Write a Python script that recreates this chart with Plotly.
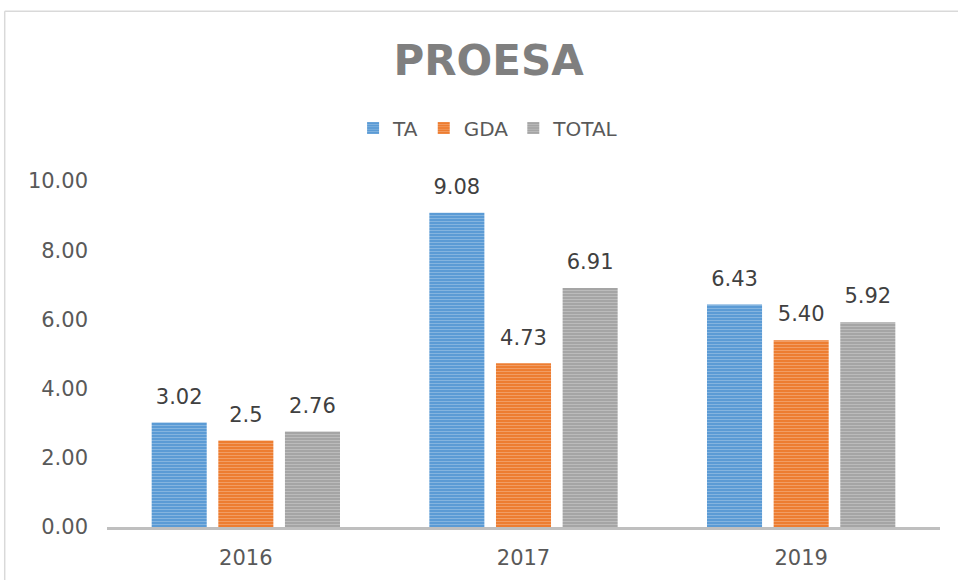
import plotly.graph_objects as go

categories = ["2016", "2017", "2019"]
ta_values = [3.02, 9.08, 6.43]
gda_values = [2.5, 4.73, 5.40]
total_values = [2.76, 6.91, 5.92]
ta_labels = ["3.02", "9.08", "6.43"]
gda_labels = ["2.5", "4.73", "5.40"]
total_labels = ["2.76", "6.91", "5.92"]
y_ticks = [0, 2, 4, 6, 8, 10]
y_tick_labels = ["0.00", "2.00", "4.00", "6.00", "8.00", "10.00"]

FONT = "DejaVu Sans"

series = [
    ("TA", ta_values, ta_labels, "#5B9BD5"),
    ("GDA", gda_values, gda_labels, "#ED7D31"),
    ("TOTAL", total_values, total_labels, "#A5A5A5"),
]

traces = []
for name, vals, labels, color in series:
    traces.append(go.Bar(
        name=name, x=categories, y=vals, offsetgroup=name,
        marker=dict(color=color, line=dict(width=0),
                    pattern=dict(shape="-", fgcolor="rgba(255,255,255,0.55)",
                                 size=3, solidity=0.3)),
        hoverinfo="skip",
    ))
for name, vals, labels, color in series:
    traces.append(go.Scatter(
        x=categories, y=vals, text=labels, offsetgroup=name, showlegend=False,
        mode="markers+text", textposition="top center", cliponaxis=False,
        marker=dict(size=20, opacity=0),
        textfont=dict(family=FONT, size=21, color="#404040"),
        hoverinfo="skip",
    ))

fig = go.Figure(traces)

fig.update_layout(
    width=958, height=580,
    margin=dict(l=107.3, r=17.6, t=181, b=52.5, pad=0),
    paper_bgcolor="white", plot_bgcolor="white",
    barmode="group", bargap=0.28, bargroupgap=0.174,
    scattermode="group", scattergap=0.28,
    font=dict(family=FONT, color="#595959"),
    title=dict(text="<b>PROESA</b>", x=0.51, xref="container", xanchor="center",
               y=1 - 60 / 580, yref="container", yanchor="middle",
               font=dict(family=FONT, size=42, color="#7F7F7F")),
    legend=dict(orientation="h", x=0.51, xref="container", xanchor="center",
                y=1 - 128 / 580, yref="container", yanchor="middle",
                font=dict(family=FONT, size=20, color="#595959"),
                itemwidth=30, tracegroupgap=0),
    showlegend=True,
    xaxis=dict(showgrid=False, showline=True, linecolor="#BFBFBF", linewidth=3,
               ticks="", tickfont=dict(family=FONT, size=21, color="#595959"),
               ticklabelstandoff=10, automargin=False),
    yaxis=dict(range=[0, 10], tickvals=y_ticks, ticktext=y_tick_labels,
               showgrid=False, zeroline=False, showline=False, ticks="",
               tickfont=dict(family=FONT, size=21, color="#595959"),
               ticklabelstandoff=18, automargin=False),
    shapes=[
        dict(type="line", xref="paper", yref="paper", x0=-0.1228, x1=-0.1228,
             y0=-0.3, y1=1.4906, line=dict(color="#D9D9D9", width=1.5)),
        dict(type="line", xref="paper", yref="paper", x0=-0.1228, x1=1.1,
             y0=1.4906, y1=1.4906, line=dict(color="#D9D9D9", width=1.5)),
    ],
)

fig.write_html("out.html", config={"displayModeBar": False},
               post_script="document.body.style.margin='0';")
